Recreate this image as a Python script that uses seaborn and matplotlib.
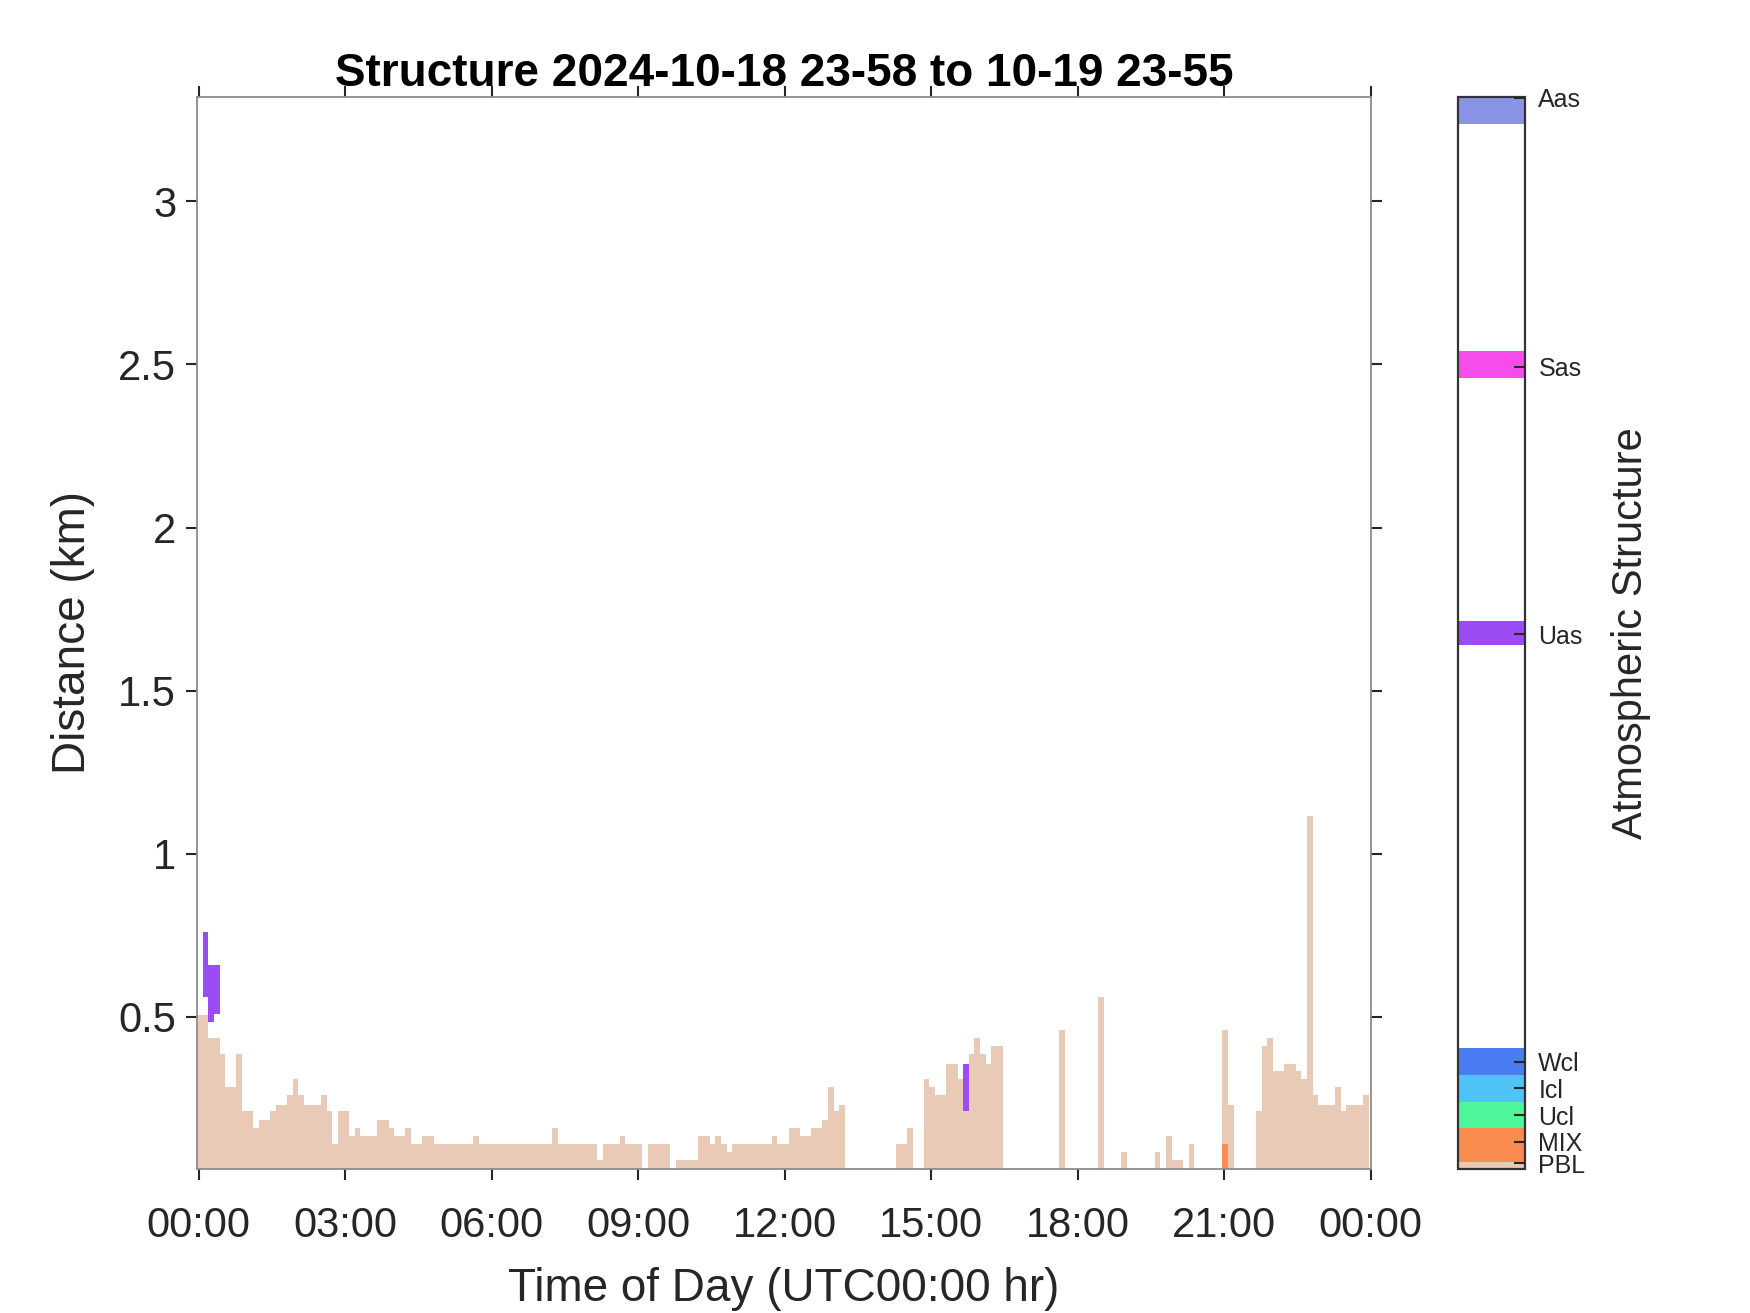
import numpy as np
import pandas as pd
import seaborn as sns
import matplotlib.pyplot as plt
from matplotlib.colors import ListedColormap, BoundaryNorm

# 208 lidar profiles, about 6.9 min apart, the first one at 23:58 of the day before
n_prof = 208
t_start = -2.0  # minutes relative to 00:00

# PBL top (km) for every profile, 0 = nothing detected
pbl_top = [
    0.505, 0.505, 0.436, 0.436, 0.383, 0.285, 0.285, 0.383, 0.208, 0.208, 0.158, 0.183, 0.183, 0.208, 0.232, 0.232,
    0.258, 0.308, 0.258, 0.232, 0.232, 0.232, 0.258, 0.208, 0.109, 0.208, 0.208, 0.134, 0.158, 0.134, 0.134, 0.134,
    0.183, 0.183, 0.158, 0.134, 0.134, 0.158, 0.109, 0.109, 0.134, 0.134, 0.109, 0.109, 0.109, 0.109, 0.109, 0.109,
    0.109, 0.134, 0.109, 0.109, 0.109, 0.109, 0.109, 0.109, 0.109, 0.109, 0.109, 0.109, 0.109, 0.109, 0.109, 0.158,
    0.109, 0.109, 0.109, 0.109, 0.109, 0.109, 0.109, 0.061, 0.109, 0.109, 0.109, 0.134, 0.109, 0.109, 0.109, 0,
    0.109, 0.109, 0.109, 0.109, 0, 0.061, 0.061, 0.061, 0.061, 0.134, 0.134, 0.109, 0.134, 0.109, 0.085, 0.109,
    0.109, 0.109, 0.109, 0.109, 0.109, 0.109, 0.134, 0.109, 0.109, 0.158, 0.158, 0.134, 0.134, 0.158, 0.158, 0.183,
    0.284, 0.209, 0.232, 0, 0, 0, 0, 0, 0, 0, 0, 0, 0.109, 0.109, 0.158, 0,
    0, 0.308, 0.284, 0.26, 0.26, 0.357, 0.357, 0.308, 0.209, 0.383, 0.434, 0.383, 0.357, 0.408, 0.408, 0,
    0, 0, 0, 0, 0, 0, 0, 0, 0, 0.459, 0, 0, 0, 0, 0, 0,
    0.559, 0, 0, 0, 0.083, 0, 0, 0, 0, 0, 0.083, 0, 0.134, 0.058, 0.058, 0,
    0.109, 0, 0, 0, 0, 0, 0.459, 0.232, 0, 0, 0, 0, 0.209, 0.408, 0.434, 0.334,
    0.334, 0.357, 0.357, 0.334, 0.308, 1.113, 0.26, 0.232, 0.232, 0.232, 0.285, 0.209, 0.232, 0.232, 0.232, 0.26,
]

# mixing layer (MIX) seen in one profile
mix_prof = [182]
mix_top = [0.109]

# undefined aerosol layers (Uas)
uas_prof = [1, 2, 3, 136]
uas_base = [0.561, 0.485, 0.508, 0.209]
uas_top = [0.759, 0.658, 0.658, 0.357]

# colour bar classes
struct_names = ['PBL', 'MIX', 'Ucl', 'Icl', 'Wcl', 'Uas', 'Sas', 'Aas']
struct_codes = [0.2, 1, 2, 3, 4, 20, 30, 40.08]
struct_colors = ['#E8CAB6', '#FA8C50', '#4DF79A', '#4DC3F7', '#4A7CF2', '#9B4CF5', '#F64CEC', '#8A94E6']
cbar_bounds = [0, 0.24, 1.5, 2.5, 3.5, 4.5, 19.6, 20.5, 29.6, 30.6, 39.1, 40.1]

x_hours = [0, 3, 6, 9, 12, 15, 18, 21, 24]
x_labels = ['00:00', '03:00', '06:00', '09:00', '12:00', '15:00', '18:00', '21:00', '00:00']
y_vals = [0.5, 1, 1.5, 2, 2.5, 3]
y_labels = ['0.5', '1', '1.5', '2', '2.5', '3']

# height grid of the image
z0, dz = 0.035, 0.005
n_z = int(round((3.32 - z0) / dz))
zc = z0 + (np.arange(n_z) + 0.5) * dz

grid = np.full((n_z, n_prof), np.nan)
for i, h in enumerate(pbl_top):
    grid[zc < h, i] = struct_codes[0]
for i, h in zip(mix_prof, mix_top):
    grid[zc < h, i] = struct_codes[1]
for i, b, t in zip(uas_prof, uas_base, uas_top):
    grid[(zc > b) & (zc < t), i] = struct_codes[5]
grid_df = pd.DataFrame(grid)

cmap = ListedColormap([struct_colors[0], struct_colors[1], struct_colors[2], struct_colors[3],
                       struct_colors[4], 'white', struct_colors[5], 'white', struct_colors[6],
                       'white', struct_colors[7]])
norm = BoundaryNorm(cbar_bounds, cmap.N)

sns.set_style('white')
plt.rcParams['font.family'] = ['Liberation Sans', 'DejaVu Sans']
txt = '#262626'

fig = plt.figure(figsize=(17.5, 13.13), dpi=100)
ax = fig.add_axes([197 / 1750, 1 - 1168.5 / 1313, 1173.5 / 1750, 1071.5 / 1313])
cax = fig.add_axes([1457.5 / 1750, 1 - 1168.5 / 1313, 67 / 1750, 1071.5 / 1313])

sns.heatmap(grid_df, ax=ax, cbar_ax=cax, cmap=cmap, norm=norm,
            xticklabels=False, yticklabels=False,
            cbar_kws={'spacing': 'proportional', 'ticks': struct_codes})
ax.invert_yaxis()
ax.set_xlim(0, n_prof)
ax.set_ylim(0, n_z)

bin_min = 1440 / n_prof
ax.set_xticks([(h * 60 - t_start) / bin_min for h in x_hours])
ax.set_xticklabels(x_labels, rotation=0)
ax.set_yticks([(v - z0) / dz for v in y_vals])
ax.set_yticklabels(y_labels, rotation=0)
ax.set_xlabel('')
ax.set_ylabel('')

for s in ax.spines.values():
    s.set_visible(True)
    s.set_color('#8c8c8c')
    s.set_linewidth(1.3)
ax.tick_params(direction='out', length=8, width=1.5, color=txt, labelcolor=txt,
               labelsize=30, top=True, right=True, bottom=True, left=True,
               labeltop=False, labelright=False)
ax.tick_params(axis='x', pad=19)
ax.tick_params(axis='y', pad=7)

# colour bar, ticks drawn on top of the colour bands
cb = ax.collections[0].colorbar
cb.outline.set_visible(True)
cb.outline.set_linewidth(1.6)
cb.outline.set_edgecolor('#333333')
cax.set_axisbelow(False)
cax.minorticks_off()
cax.set_yticks(struct_codes)
cax.set_yticklabels(struct_names)
cax.tick_params(which='minor', length=0)
cax.tick_params(which='major', direction='in', length=8, width=1.5, color=txt,
                labelcolor=txt, labelsize=18, right=True, left=False, pad=10)

fig.text(784 / 1750, 1 - 86 / 1313, 'Structure 2024-10-18 23-58 to 10-19 23-55',
         ha='center', va='baseline', fontsize=33, fontweight='bold', color='black')
fig.text(784 / 1750, 1 - 1301 / 1313, 'Time of Day (UTC00:00 hr)',
         ha='center', va='baseline', fontsize=33, color=txt)
fig.text(73 / 1750, 1 - 633 / 1313, 'Distance (km)', rotation=90,
         ha='center', va='center', fontsize=33, color=txt)
fig.text(1631 / 1750, 1 - 633 / 1313, 'Atmospheric Structure', rotation=90,
         ha='center', va='center', fontsize=30, color=txt)

fig.savefig('out.png', dpi=100)
